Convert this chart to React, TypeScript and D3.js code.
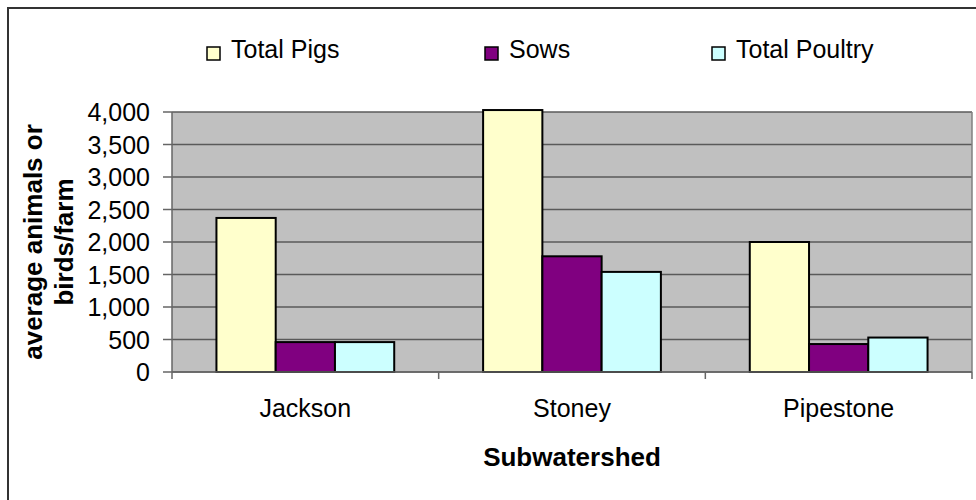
import React from 'react';
import * as d3 from 'd3';

const categories = ['Jackson', 'Stoney', 'Pipestone'];
const seriesNames = ['Total Pigs', 'Sows', 'Total Poultry'];
const totalPigs = [2370, 4030, 2000];
const sows = [460, 1780, 430];
const totalPoultry = [460, 1540, 530];
const yTicks = [0, 500, 1000, 1500, 2000, 2500, 3000, 3500, 4000];

const seriesValues = [totalPigs, sows, totalPoultry];
const colors = ['#FFFFCC', '#800080', '#CCFFFF'];

const width = 976;
const height = 500;
const plot = { left: 172, right: 972, top: 112, bottom: 372 };
const font = 'Arial, "Liberation Sans", sans-serif';

const App: React.FC = () => {
  const x0 = d3.scaleBand<string>()
    .domain(categories)
    .range([plot.left, plot.right])
    .padding(0);

  const x1 = d3.scaleBand<string>()
    .domain(seriesNames)
    .range([0, x0.bandwidth()])
    .paddingInner(0)
    .paddingOuter(0.75);

  const y = d3.scaleLinear()
    .domain([0, 4000])
    .range([plot.bottom, plot.top]);

  const fmt = d3.format(',');
  const boundaries = [...categories.map(c => x0(c)!), plot.right];

  // legend positions (square left edge)
  const legendX = [207, 485, 712];

  return (
    <svg
      width={width}
      height={height}
      style={{ position: 'absolute', left: 0, top: 0, display: 'block', background: '#fff' }}
      fontFamily={font}
    >
      {/* outer chart frame */}
      <rect x={8} y={8} width={1000} height={600} fill="#fff" stroke="#333" strokeWidth={2} />

      {/* plot area */}
      <rect x={plot.left} y={plot.top} width={plot.right - plot.left} height={plot.bottom - plot.top} fill="#C0C0C0" />

      {/* gridlines */}
      {yTicks.map(t => (
        <line key={'g' + t} x1={plot.left} x2={plot.right} y1={y(t)} y2={y(t)} stroke="#5a5a5a" strokeWidth={1.5} />
      ))}
      <line x1={plot.right} x2={plot.right} y1={plot.top} y2={plot.bottom} stroke="#808080" strokeWidth={1.5} />

      {/* bars */}
      {categories.map((c, i) => (
        <g key={c} transform={`translate(${x0(c)},0)`}>
          {seriesNames.map((s, j) => (
            <rect
              key={s}
              x={x1(s)!}
              y={y(seriesValues[j][i])}
              width={x1.bandwidth()}
              height={plot.bottom - y(seriesValues[j][i])}
              fill={colors[j]}
              stroke="#000"
              strokeWidth={2}
            />
          ))}
        </g>
      ))}

      {/* y axis */}
      <line x1={plot.left} x2={plot.left} y1={plot.top} y2={plot.bottom} stroke="#666" strokeWidth={1.5} />
      {yTicks.map(t => (
        <g key={'y' + t}>
          <line x1={plot.left - 9} x2={plot.left} y1={y(t)} y2={y(t)} stroke="#666" strokeWidth={1.5} />
          <text x={150} y={y(t) + 9} textAnchor="end" fontSize={25} fill="#000">{fmt(t)}</text>
        </g>
      ))}

      {/* x axis */}
      <line x1={plot.left} x2={plot.right} y1={plot.bottom} y2={plot.bottom} stroke="#666" strokeWidth={1.5} />
      {boundaries.map((b, i) => (
        <line key={'xt' + i} x1={b} x2={b} y1={plot.bottom} y2={plot.bottom + 7} stroke="#666" strokeWidth={1.5} />
      ))}
      {categories.map(c => (
        <text key={'xl' + c} x={x0(c)! + x0.bandwidth() / 2} y={417} textAnchor="middle" fontSize={25} fill="#000">{c}</text>
      ))}

      {/* axis titles */}
      <text x={(plot.left + plot.right) / 2} y={466} textAnchor="middle" fontSize={26} fontWeight="bold" fill="#000">Subwatershed</text>
      <text transform={`translate(42,${(plot.top + plot.bottom) / 2}) rotate(-90)`} textAnchor="middle" fontSize={26} fontWeight="bold" fill="#000">average animals or</text>
      <text transform={`translate(73,${(plot.top + plot.bottom) / 2}) rotate(-90)`} textAnchor="middle" fontSize={26} fontWeight="bold" fill="#000">birds/farm</text>

      {/* legend */}
      {seriesNames.map((s, j) => (
        <g key={'lg' + s} transform={`translate(${legendX[j]},0)`}>
          <rect x={0} y={47} width={13} height={13} fill={colors[j]} stroke="#000" strokeWidth={1.5} />
          <text x={24} y={58} fontSize={25} fill="#000">{s}</text>
        </g>
      ))}
    </svg>
  );
};

export default App;
